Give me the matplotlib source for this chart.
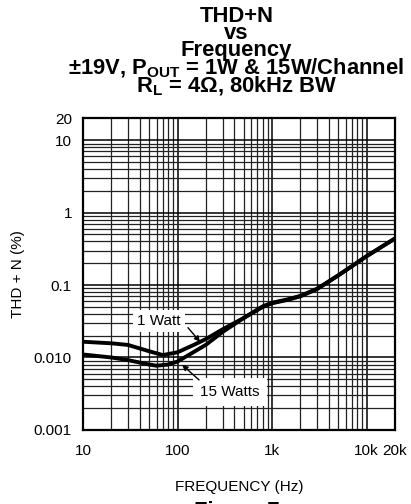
import numpy as np
import matplotlib
matplotlib.use("Agg")
import matplotlib.pyplot as plt
from matplotlib.ticker import FixedLocator, NullFormatter

plt.rcParams['font.family'] = ['Liberation Sans', 'DejaVu Sans']
plt.rcParams['mathtext.default'] = 'regular'

# values
freq_1w = [10, 20, 30, 50, 70, 100, 150, 200, 300, 500, 800, 1000, 1500, 2000, 3000, 5000, 10000, 20000]
thd_1w = [0.0165, 0.0157, 0.0149, 0.0122, 0.0108, 0.0118, 0.0150, 0.0180, 0.0245, 0.035, 0.050, 0.056,
          0.063, 0.070, 0.088, 0.135, 0.25, 0.44]
freq_15w = [10, 20, 30, 50, 60, 80, 100, 150, 200, 300, 500, 800, 1000, 1500, 2000, 3000, 5000, 10000, 20000]
thd_15w = [0.0110, 0.0100, 0.0092, 0.0080, 0.0077, 0.0080, 0.0088, 0.0120, 0.0150, 0.0225, 0.035, 0.051,
           0.057, 0.064, 0.071, 0.089, 0.136, 0.25, 0.44]

x_ticks = [10, 100, 1000, 10000, 20000]
x_labels = ['10', '100', '1k', '10k', '20k']
y_ticks = [0.001, 0.01, 0.1, 1, 10, 20]
y_labels = ['0.001', '0.010', '0.1', '1', '10', '20']

fig = plt.figure(figsize=(4.11, 5.04), dpi=100)
ax = fig.add_axes([0.202, 0.147, 0.759, 0.618])
ax.set_xscale('log')
ax.set_yscale('log')
ax.set_xlim(10, 20000)
ax.set_ylim(0.001, 20)

# grid lines
xminor = [m * 10**d for d in range(1, 5) for m in range(2, 10) if m * 10**d < 20000]
yminor = [m * 10.0**d for d in range(-3, 1) for m in range(2, 10)]
for v in xminor:
    ax.axvline(v, color='#222222', lw=0.9, zorder=1)
for v in [100, 1000, 10000]:
    ax.axvline(v, color='black', lw=1.1, zorder=1)
for v in yminor:
    ax.axhline(v, color='#222222', lw=0.9, zorder=1)
for v in [0.01, 0.1, 1, 10]:
    ax.axhline(v, color='black', lw=1.1, zorder=1)

ax.plot(freq_1w, thd_1w, color='black', lw=2.8, zorder=3)
ax.plot(freq_15w, thd_15w, color='black', lw=2.8, zorder=3)

ax.xaxis.set_major_locator(FixedLocator(x_ticks))
ax.xaxis.set_minor_formatter(NullFormatter())
ax.set_xticks(x_ticks, x_labels)
ax.set_yticks(y_ticks, y_labels)
ax.minorticks_off()
ax.tick_params(length=0, labelsize=11, pad=8)
ax.tick_params(axis='x', pad=10)
for s in ax.spines.values():
    s.set_linewidth(1.6)
    s.set_zorder(4)

ax.set_ylabel('THD + N (%)', fontsize=11, labelpad=6)
ax.set_xlabel('FREQUENCY (Hz)', fontsize=11, labelpad=16)

# callouts
arrow = dict(arrowstyle='-|>', color='black', lw=1, mutation_scale=8, shrinkA=0, shrinkB=0)
ax.text(64, 0.032, '1 Watt', fontsize=11, ha='center', va='center', zorder=5,
        bbox=dict(facecolor='white', edgecolor='none', pad=3))
ax.annotate('', xy=(173, 0.0165), xytext=(129, 0.0258), arrowprops=arrow, zorder=5)
ax.text(360, 0.00336, '15 Watts', fontsize=11, ha='center', va='center', zorder=5,
        bbox=dict(facecolor='white', edgecolor='none', pad=5))
ax.annotate('', xy=(112, 0.0079), xytext=(169, 0.0049), arrowprops=arrow, zorder=5)

# title lines
tx = 0.575
fs = 15.8
fig.text(tx, 1 - 22 / 504, 'THD+N', fontsize=fs, weight='bold', ha='center', va='baseline')
fig.text(tx, 1 - 39 / 504, 'vs', fontsize=fs, weight='bold', ha='center', va='baseline')
fig.text(tx, 1 - 56 / 504, 'Frequency', fontsize=fs, weight='bold', ha='center', va='baseline')
fig.text(tx, 1 - 74 / 504, '±19V, P$_{OUT}$ = 1W & 15W/Channel', fontsize=fs, weight='bold',
         ha='center', va='baseline')
fig.text(tx, 1 - 92 / 504, 'R$_{L}$ = 4Ω, 80kHz BW', fontsize=fs, weight='bold', ha='center', va='baseline')

fig.text(tx, 3.5 / 504, 'Figure 7', fontsize=fs, weight='bold', ha='center', va='top')

fig.savefig('out.png', dpi=100)
